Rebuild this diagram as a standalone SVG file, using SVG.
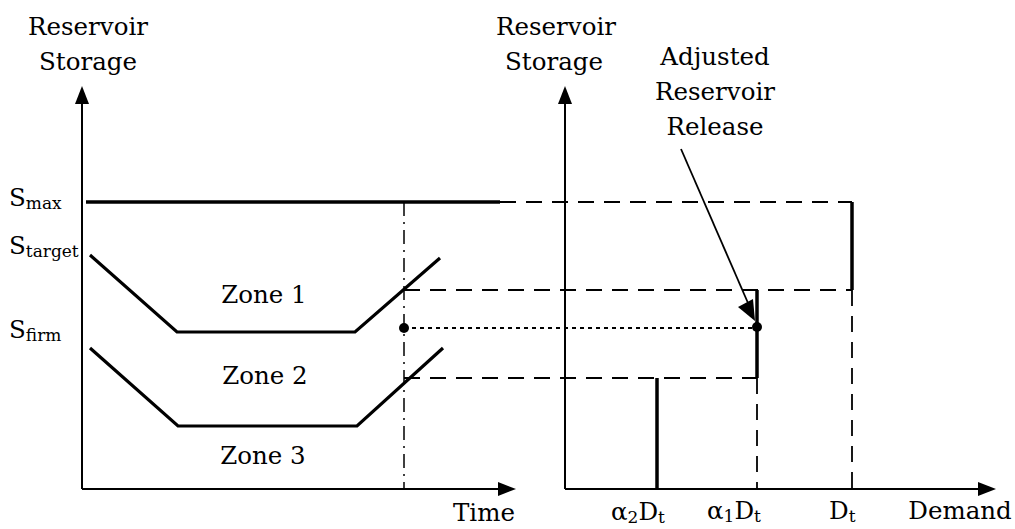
<svg xmlns="http://www.w3.org/2000/svg" width="1015" height="529" viewBox="0 0 1015 529">
<style>
text{font-family:"DejaVu Serif","Liberation Serif",serif;font-size:24.5px;fill:#000}
.sub{font-size:17px}
.ax{stroke:#000;stroke-width:2;fill:none}
.thick{stroke:#000;stroke-width:3.5;fill:none}
.zone{stroke:#000;stroke-width:3.2;fill:none}
.dash{stroke:#000;stroke-width:1.8;fill:none;stroke-dasharray:16,10}
.dot{stroke:#000;stroke-width:2.2;fill:none;stroke-dasharray:4,4}
.dd{stroke:#000;stroke-width:1.5;fill:none;stroke-dasharray:14,6,2,6}
</style>
<g id="connectors">
<line class="dd" x1="404" y1="202" x2="404" y2="489"/>
<line class="dash" x1="500" y1="202" x2="852" y2="202"/>
<line class="dash" x1="404" y1="290" x2="852" y2="290"/>
<line class="dash" x1="404" y1="378" x2="757" y2="378"/>
<line class="dot" x1="404" y1="328" x2="757" y2="328"/>
<line class="dash" x1="757" y1="378" x2="757" y2="489"/>
<line class="dash" x1="852" y1="290" x2="852" y2="489"/>
</g>
<g id="left-axes">
<path class="ax" d="M82,489 V100"/>
<path d="M75,104 L82,86 L89,104 z"/>
<path class="ax" d="M82,489 H503"/>
<path d="M498,482 L516,489 L498,496 z"/>
</g>
<g id="right-axes">
<path class="ax" d="M565,489 V100"/>
<path d="M558,104 L565,86 L572,104 z"/>
<path class="ax" d="M565,489 H982"/>
<path d="M978,482 L996,489 L978,496 z"/>
</g>
<g id="smax-line"><line class="thick" x1="86" y1="202" x2="500" y2="202"/></g>
<g id="zone1-line"><polyline class="zone" points="90,255 177,332 355,332 440,258"/></g>
<g id="zone2-line"><polyline class="zone" points="90,348 178,426 357,426 443,348"/></g>
<g id="release-bars">
<line class="thick" x1="852" y1="202" x2="852" y2="290"/>
<line class="thick" x1="757" y1="290" x2="757" y2="378"/>
<line class="thick" x1="657" y1="378" x2="657" y2="489"/>
</g>
<g id="points">
<circle cx="404" cy="328" r="5"/>
<circle cx="757" cy="327" r="5"/>
</g>
<g id="adjusted-arrow">
<line x1="681" y1="149" x2="748" y2="303" stroke="#000" stroke-width="1.8"/>
<path d="M738,307 L755,321 L753,299 z"/>
</g>
<g id="labels">
<text x="88" y="35" text-anchor="middle">Reservoir</text>
<text x="88" y="70" text-anchor="middle">Storage</text>
<text x="556" y="35" text-anchor="middle">Reservoir</text>
<text x="554" y="70" text-anchor="middle">Storage</text>
<text x="715" y="65" text-anchor="middle">Adjusted</text>
<text x="715" y="100" text-anchor="middle">Reservoir</text>
<text x="715" y="135" text-anchor="middle">Release</text>
<text x="9" y="206">S<tspan class="sub" dy="3">max</tspan></text>
<text x="9" y="254">S<tspan class="sub" dy="3">target</tspan></text>
<text x="9" y="338">S<tspan class="sub" dy="3">firm</tspan></text>
<text x="264" y="303" text-anchor="middle">Zone 1</text>
<text x="265" y="384" text-anchor="middle">Zone 2</text>
<text x="263" y="464" text-anchor="middle">Zone 3</text>
<text x="484" y="521" text-anchor="middle">Time</text>
<text x="611" y="520">α<tspan class="sub" dy="3">2</tspan><tspan dy="-3">D</tspan><tspan class="sub" dy="3">t</tspan></text>
<text x="707" y="519">α<tspan class="sub" dy="3">1</tspan><tspan dy="-3">D</tspan><tspan class="sub" dy="3">t</tspan></text>
<text x="829" y="519">D<tspan class="sub" dy="3">t</tspan></text>
<text x="960" y="519" text-anchor="middle">Demand</text>
</g>
</svg>
